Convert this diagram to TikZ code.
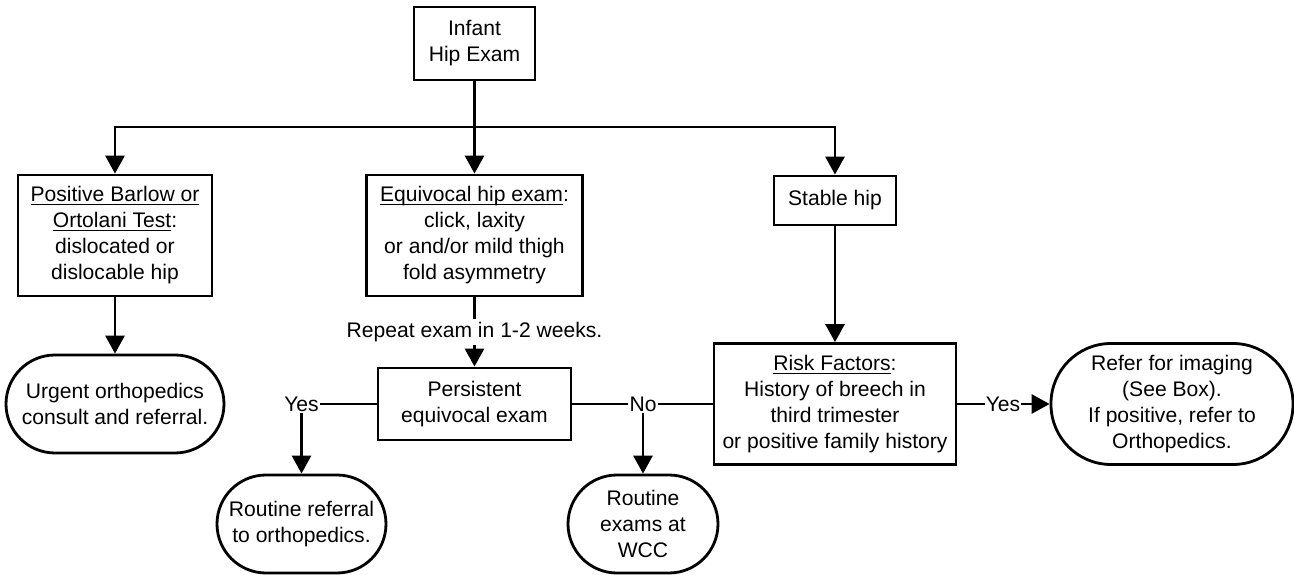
\documentclass[tikz,border=0pt]{standalone}
\usepackage{fontspec}
\setmainfont{Liberation Sans}
\usetikzlibrary{arrows.meta}
\newcommand{\uln}[1]{\underline{\raisebox{0pt}[\height][0pt]{#1}}}

\begin{document}
\begin{tikzpicture}[
    box/.style={draw, line width=1.6pt, align=center, inner sep=2pt, font=\fontsize{12}{14.8}\selectfont},
    term/.style={box, rounded corners=#1},
    lbl/.style={fill=white, inner sep=0.5pt, font=\fontsize{12}{14.8}\selectfont},
    link/.style={line width=1.6pt},
    flow/.style={link, -{Triangle[length=0.36cm, width=0.38cm]}}
]
\useasboundingbox (0,0) rectangle (25.88,-11.5);
\node[box, minimum width=2.42cm, minimum height=1.46cm] (infant) at (9.49,-0.87) {Infant\\Hip Exam};
\node[box, minimum width=3.88cm, minimum height=2.42cm] (positive) at (2.30,-4.71) {\uln{Positive Barlow or}\\\uln{Ortolani Test}:\\dislocated or\\dislocable hip};
\node[box, minimum width=4.32cm, minimum height=2.42cm] (equivocal) at (9.49,-4.71) {\uln{Equivocal hip exam}:\\click, laxity\\or and/or mild thigh\\fold asymmetry};
\node[box, minimum width=2.44cm, minimum height=0.98cm] (stable) at (16.70,-4.01) {Stable hip};
\node[term=0.98cm, minimum width=4.36cm, minimum height=1.96cm] (urgent) at (2.30,-8.08) {Urgent orthopedics\\consult and referral.};
\node[box, minimum width=3.86cm, minimum height=1.44cm] (persist) at (9.49,-8.08) {Persistent\\equivocal exam};
\node[box, minimum width=4.84cm, minimum height=2.42cm] (risk) at (16.70,-8.08) {\uln{Risk Factors}:\\History of breech in\\third trimester\\or positive family history};
\node[term=1.2cm, minimum width=4.84cm, minimum height=2.42cm] (imaging) at (23.44,-8.08) {Refer for imaging\\(See Box).\\If positive, refer to\\Orthopedics.};
\node[term=0.98cm, minimum width=3.38cm, minimum height=1.96cm] (refortho) at (6.03,-10.48) {Routine referral\\to orthopedics.};
\node[term=0.98cm, minimum width=3.0cm, minimum height=1.96cm] (wcc) at (12.86,-10.48) {Routine\\exams at\\WCC};
\coordinate (split) at (9.49,-2.54);
\node[lbl] (yes1) at (6.03,-8.08) {Yes};
\node[lbl] (no1) at (12.86,-8.08) {No};
\node[lbl] (yes2) at (20.06,-8.08) {Yes};
\draw[flow] (infant.south) -- (equivocal.north);
\draw[flow] (split) -| (positive.north);
\draw[flow] (split) -| (stable.north);
\draw[flow] (positive.south) -- (urgent.north);
\draw[flow] (equivocal.south) -- node[lbl, inner sep=2pt] {Repeat exam in 1-2 weeks.} (persist.north);
\draw[flow] (stable.south) -- (risk.north);
\draw[link] (persist.west) -- (yes1.east);
\draw[flow] (yes1.south) -- (refortho.north);
\draw[link] (persist.east) -- (no1.west);
\draw[link] (no1.east) -- (risk.west);
\draw[flow] (no1.south) -- (wcc.north);
\draw[link] (risk.east) -- (yes2.west);
\draw[flow] (yes2.east) -- (imaging.west);
\end{tikzpicture}
\end{document}
